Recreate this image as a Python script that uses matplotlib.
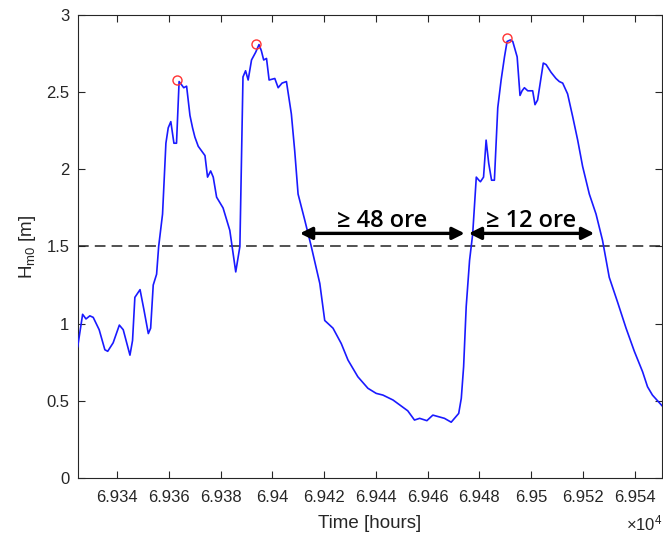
# %%
# libraries
import matplotlib
matplotlib.use("Agg")
import numpy as np
import matplotlib.pyplot as plt
from matplotlib.ticker import FuncFormatter

# %%
# data
hours = [69324.7, 69326.6, 69327.9, 69329.4, 69330.7, 69333.0, 69335.2, 69336.3,
         69338.4, 69340.8, 69342.3, 69344.9, 69345.9, 69346.8, 69348.8, 69350.3,
         69352.0, 69352.9, 69353.9, 69355.2, 69356.0, 69357.5, 69358.8, 69359.7,
         69360.7, 69361.9, 69362.9, 69363.9, 69365.7, 69366.8, 69368.1, 69369.1,
         69370.0, 69371.3, 69373.9, 69374.9, 69376.1, 69377.1, 69378.4, 69380.9,
         69383.5, 69384.8, 69385.8, 69387.4, 69388.6, 69389.6, 69390.6, 69391.9,
         69393.5, 69394.8, 69395.7, 69396.6, 69397.7, 69398.7, 69400.9, 69402.2,
         69403.7, 69405.4, 69407.3, 69408.6, 69409.9, 69412.5, 69415.0, 69418.3,
         69420.2, 69423.4, 69426.6, 69429.2, 69433.0, 69436.9, 69440.1, 69442.7,
         69446.6, 69452.3, 69454.9, 69456.9, 69459.7, 69462.0, 69466.5, 69469.1,
         69472.0, 69473.0, 69473.9, 69474.9, 69476.2, 69477.4, 69478.8, 69479.8,
         69480.4, 69481.6, 69482.6, 69483.6, 69484.7, 69485.8, 69487.1, 69488.4,
         69489.7, 69490.7, 69492.0, 69492.9, 69494.6, 69495.7, 69496.5, 69497.4,
         69498.7, 69500.6, 69501.5, 69502.5, 69503.9, 69504.7, 69505.8, 69507.7,
         69509.6, 69510.9, 69512.2, 69514.1, 69516.1, 69518.0, 69519.9, 69522.5,
         69525.1, 69527.6, 69530.2, 69533.4, 69536.7, 69539.9, 69543.1, 69545.0,
         69546.9, 69550.6]
hm0 = [0.85, 1.06, 1.03, 1.05, 1.04, 0.96, 0.83, 0.82,
       0.875, 0.99, 0.96, 0.795, 0.89, 1.17, 1.22, 1.09,
       0.935, 0.97, 1.25, 1.32, 1.50, 1.71, 2.17, 2.27,
       2.31, 2.17, 2.17, 2.57, 2.53, 2.54, 2.35, 2.27,
       2.21, 2.15, 2.09, 1.95, 1.99, 1.95, 1.82, 1.75,
       1.605, 1.45, 1.335, 1.50, 2.60, 2.64, 2.58, 2.71,
       2.76, 2.81, 2.77, 2.71, 2.72, 2.58, 2.59, 2.53,
       2.56, 2.57, 2.36, 2.12, 1.84, 1.67, 1.50, 1.26,
       1.02, 0.97, 0.87, 0.763, 0.655, 0.58, 0.547, 0.536,
       0.504, 0.434, 0.374, 0.385, 0.37, 0.406, 0.385, 0.36,
       0.417, 0.515, 0.72, 1.11, 1.41, 1.58, 1.95, 1.93,
       1.92, 1.95, 2.19, 2.04, 1.93, 1.93, 2.40, 2.58,
       2.73, 2.83, 2.84, 2.83, 2.73, 2.48, 2.51, 2.53,
       2.51, 2.51, 2.42, 2.45, 2.60, 2.69, 2.68, 2.63,
       2.59, 2.57, 2.56, 2.49, 2.34, 2.19, 2.02, 1.84,
       1.71, 1.54, 1.30, 1.14, 0.97, 0.82, 0.687, 0.59,
       0.536, 0.467]

peak_hours = [69362.9, 69393.5, 69490.7]
peak_hm0 = [2.58, 2.815, 2.85]

threshold = 1.5
arrow_spans = [(69410.6, 69474.3), (69475.9, 69524.4)]
arrow_labels = ['≥ 48 ore', '≥ 12 ore']
arrow_level = 1.585

xticks = np.arange(69340, 69541, 20)

# %%
# style
plt.rcParams['font.family'] = ['Liberation Sans', 'DejaVu Sans']
plt.rcParams['mathtext.fontset'] = 'custom'
plt.rcParams['mathtext.rm'] = 'Liberation Sans'
plt.rcParams['mathtext.it'] = 'Liberation Sans:italic'
axcol = '#262626'

fig = plt.figure(figsize=(6.63, 5.38), dpi=100)
ax = fig.add_axes([0.1172, 0.1121, 0.8813, 0.8595])

ax.plot(hours, hm0, color='#1a1aff', lw=1.2, zorder=3)
ax.plot(peak_hours, peak_hm0, 'o', mfc='none', mec='#ff3333', ms=6.5, mew=1.0, zorder=4)
ax.axhline(threshold, color='#222222', lw=1.1, dashes=(7, 4), zorder=2)

for (x0, x1), lab in zip(arrow_spans, arrow_labels):
    ax.annotate('', xy=(x0, arrow_level), xytext=(x1, arrow_level),
                arrowprops=dict(arrowstyle='<|-|>', color='black', lw=2.4,
                                mutation_scale=18, shrinkA=0, shrinkB=0), zorder=5)
    ax.text((x0 + x1) / 2, arrow_level + 0.04, lab, ha='center', va='baseline',
            fontsize=17, family=['Open Sans', 'DejaVu Sans'], weight='semibold',
            color='black', zorder=5)

ax.set_xlim(69324.7, 69550.6)
ax.set_ylim(0, 3)
ax.set_xticks(xticks)
ax.set_yticks(np.arange(0, 3.01, 0.5))
ax.xaxis.set_major_formatter(FuncFormatter(lambda v, p: f'{v / 1e4:g}'))
ax.yaxis.set_major_formatter(FuncFormatter(lambda v, p: f'{v:g}'))
ax.tick_params(direction='in', length=5, width=0.8, colors=axcol, labelsize=12,
               top=True, right=True)
ax.tick_params(axis='x', pad=9)
ax.tick_params(axis='y', pad=6)
for s in ax.spines.values():
    s.set_color(axcol)
    s.set_linewidth(0.8)

ax.set_xlabel('Time [hours]', fontsize=13.5, color=axcol, labelpad=7)
ax.set_ylabel(r'H$_{\mathrm{m0}}$ [m]', fontsize=13.5, color=axcol, labelpad=6)
fig.text(0.999, 0.014, r'$\times10^{4}$', ha='right', va='baseline', fontsize=12, color=axcol)

fig.savefig('out.png', dpi=100)
